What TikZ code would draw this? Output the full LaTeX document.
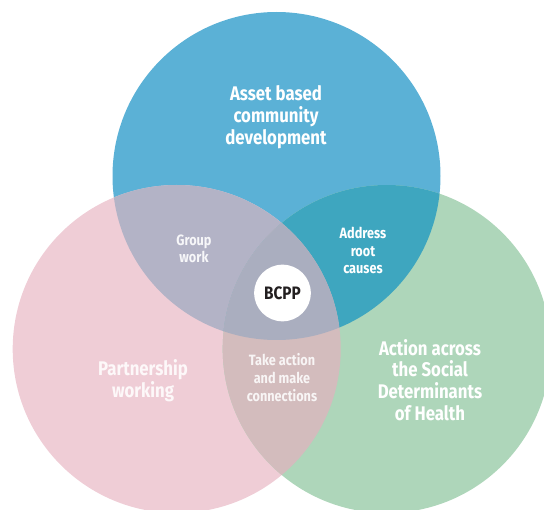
\documentclass[tikz,border=0pt]{standalone}
\usepackage{fontspec}
\setmainfont{Fira Sans}[FakeStretch=0.85]

\definecolor{bluec}{HTML}{5BB1D6}
\definecolor{pinkc}{HTML}{EFCDD6}
\definecolor{greenc}{HTML}{AED6BA}
\definecolor{bluepink}{HTML}{B3B3C6}
\definecolor{bluegreen}{HTML}{3EA6BF}
\definecolor{pinkgreen}{HTML}{D3BCBD}
\definecolor{allthree}{HTML}{AAAEBF}
\definecolor{inkc}{HTML}{231F20}

\tikzset{
	big/.style={text=white, align=center, font=\bfseries\fontsize{14.8}{16.3}\selectfont},
	small/.style={text=white, align=center, font=\bfseries\fontsize{11.2}{13.2}\selectfont},
}

\begin{document}
\begin{tikzpicture}
[x=0.75pt, y=-0.75pt]
\useasboundingbox (0,0) rectangle (544,510);
\clip (0,0) rectangle (544,510);

\def\asset{(276.5,176) circle [radius=123pt]}
\def\partner{(176.7,349) circle [radius=123pt]}
\def\social{(386.7,349) circle [radius=123pt]}

\fill [bluec] \asset;
\fill [pinkc] \partner;
\fill [greenc] \social;

\begin{scope}
	\clip \asset;
	\fill [bluepink] \partner;
	\fill [bluegreen] \social;
\end{scope}
\begin{scope}
	\clip \partner;
	\fill [pinkgreen] \social;
\end{scope}
\begin{scope}
	\clip \asset;
	\clip \partner;
	\fill [allthree] \social;
\end{scope}

\node [big] (abcd) at (276,117) {Asset based\\community\\development};
\node [big, text=white!85!pinkc] (pw) at (143,381) {Partnership\\working};
\node [big] (sdh) at (430,380) {Action across\\the Social\\Determinants\\of Health};

\node [small, text=white!90!bluepink] (group) at (194,249) {Group\\work};
\node [small] (root) at (363,250.5) {Address\\root\\causes};
\node [small, text=white!85!pinkgreen] (conn) at (282,377.5) {Take action\\and make\\connections};

\node [circle, fill=white, minimum size=42.5pt, inner sep=0pt, text=inkc,
	font=\bfseries\fontsize{13.5}{15}\selectfont] (bcpp) at (282.5,293) {BCPP};
\end{tikzpicture}
\end{document}
